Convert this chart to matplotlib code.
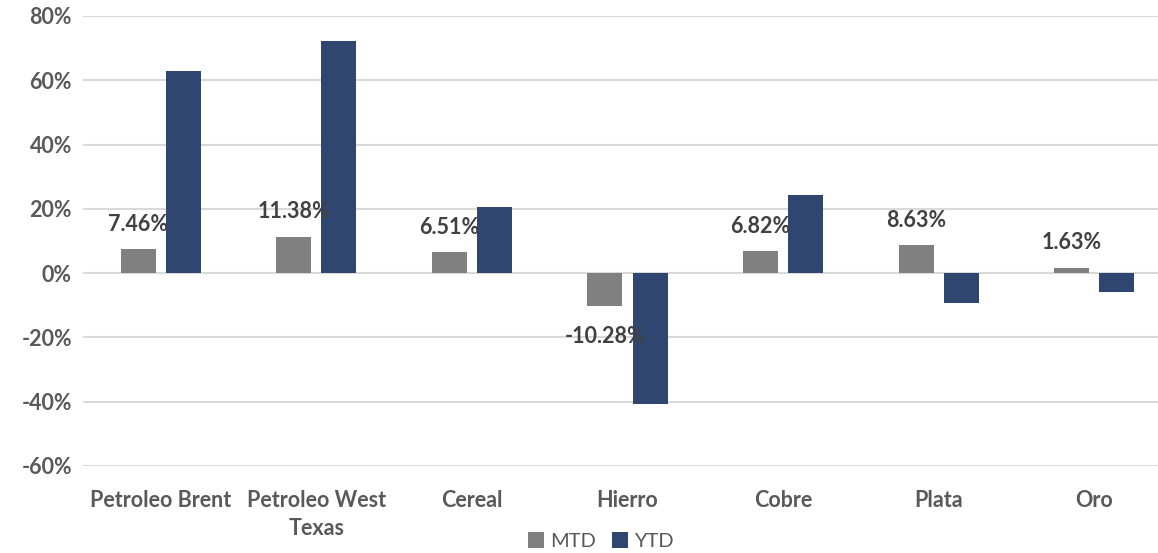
import numpy as np
import matplotlib.pyplot as plt
from matplotlib.ticker import PercentFormatter

categories = ['Petroleo Brent', 'Petroleo West\nTexas', 'Cereal', 'Hierro', 'Cobre', 'Plata', 'Oro']
mtd = [7.46, 11.38, 6.51, -10.28, 6.82, 8.63, 1.63]
ytd = [62.9, 72.3, 20.6, -40.8, 24.3, -9.3, -5.9]
mtd_labels = ['7.46%', '11.38%', '6.51%', '-10.28%', '6.82%', '8.63%', '1.63%']

MTD_COLOR = '#808080'
YTD_COLOR = '#2F4770'
TICK_COLOR = '#595959'
LABEL_COLOR = '#404040'
GRID_COLOR = '#D9D9D9'

plt.rcParams['font.family'] = ['Lato', 'DejaVu Sans']
plt.rcParams['axes.unicode_minus'] = False

fig = plt.figure(figsize=(11.58, 5.53), dpi=100)
ax = fig.add_axes([83 / 1158, 87 / 553, 1089 / 1158, 450 / 553])

x = np.arange(len(categories))
width = 0.225
shift = 0.145

mtd_bars = ax.bar(x - shift, mtd, width, color=MTD_COLOR, label='MTD', zorder=3)
ax.bar(x + shift, ytd, width, color=YTD_COLOR, label='YTD', zorder=3)

for bar, value, text in zip(mtd_bars, mtd, mtd_labels):
    cx = bar.get_x() + bar.get_width() / 2
    offset = 18 if value >= 0 else -22
    ax.annotate(text, (cx, value), xytext=(0, offset), textcoords='offset points',
                ha='center', va='center', fontsize=15.5, fontweight='bold',
                color=LABEL_COLOR, zorder=4)

ax.set_xlim(-0.5, len(categories) - 0.5)
ax.set_ylim(-60, 80)
ax.set_yticks(np.arange(-60, 81, 20))
ax.yaxis.set_major_formatter(PercentFormatter(decimals=0))
ax.grid(axis='y', color=GRID_COLOR, linewidth=1.5, zorder=0)
ax.set_xticks(x)
ax.set_xticklabels(categories, fontsize=15.5, fontweight='bold', color=TICK_COLOR,
                   linespacing=1.45)
ax.tick_params(axis='y', labelsize=15.5, labelcolor=TICK_COLOR, length=0, pad=8)
ax.tick_params(axis='x', length=0, pad=17)
for label in ax.get_yticklabels():
    label.set_fontweight('bold')
for side in ['top', 'right', 'left', 'bottom']:
    ax.spines[side].set_visible(False)

fig.legend(loc='center', bbox_to_anchor=(601 / 1158, 1 - 541 / 553), ncol=2,
           frameon=False, fontsize=14.5, labelcolor=TICK_COLOR, handlelength=0.8,
           handleheight=0.8, handletextpad=0.3, columnspacing=0.8)

fig.savefig('out.png', dpi=100)
